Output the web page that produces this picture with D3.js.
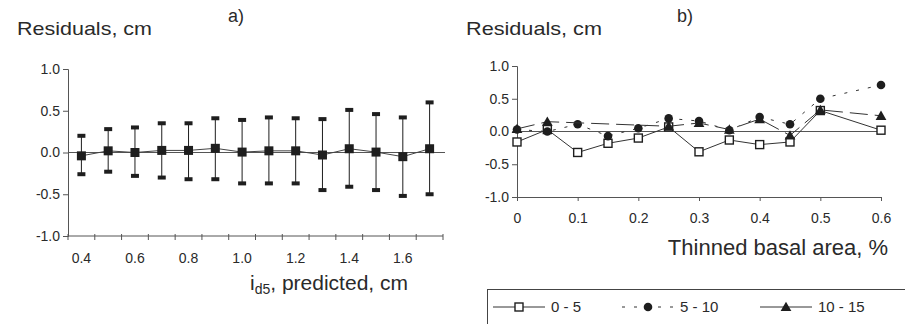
<!DOCTYPE html>
<html>
<head>
<meta charset="utf-8">
<script src="https://cdn.jsdelivr.net/npm/d3@7"></script>
<style>
  body { margin: 0; background: #fff; }
  svg { font-family: "Liberation Sans", Arial, sans-serif; }
</style>
</head>
<body>
<svg id="chart" width="905" height="324"></svg>
<script>
// panel a) residual means with error bars per predicted id5 class
const predCats = [0.4, 0.5, 0.6, 0.7, 0.8, 0.9, 1.0, 1.1, 1.2, 1.3, 1.4, 1.5, 1.6, 1.7];
const predLabels = [0.4, 0.6, 0.8, 1.0, 1.2, 1.4, 1.6];
const meanRes = [-0.04, 0.02, 0.0, 0.025, 0.025, 0.05, 0.005, 0.02, 0.02, -0.03, 0.045, 0.005, -0.05, 0.045];
const upperRes = [0.20, 0.28, 0.30, 0.35, 0.35, 0.41, 0.39, 0.42, 0.41, 0.40, 0.51, 0.46, 0.42, 0.60];
const lowerRes = [-0.26, -0.23, -0.28, -0.30, -0.32, -0.32, -0.37, -0.37, -0.37, -0.45, -0.41, -0.45, -0.52, -0.50];

// panel b) residuals by thinned basal area, three size classes (null = no value)
const thinned = [0, 0.05, 0.1, 0.15, 0.2, 0.25, 0.3, 0.35, 0.4, 0.45, 0.5, 0.6];
const thinnedTicks = [0, 0.1, 0.2, 0.3, 0.4, 0.5, 0.6];
const s0to5 = [-0.16, 0.03, -0.32, -0.18, -0.10, 0.07, -0.31, -0.13, -0.20, -0.16, 0.32, 0.02];
const s5to10 = [0.03, 0.0, 0.11, -0.07, 0.05, 0.20, 0.16, 0.02, 0.22, 0.11, 0.50, 0.71];
const s10to15 = [0.04, 0.15, null, null, null, 0.08, 0.13, 0.03, 0.19, -0.06, 0.33, 0.24];
const seriesNames = ["0 - 5", "5 - 10", "10 - 15"];

const yTicks = [-1, -0.5, 0, 0.5, 1];
const ink = "#1e1e1e", textCol = "#2a2a2a";

const svg = d3.select("#chart");

function styleAxis(g) {
  g.selectAll("path, line").attr("stroke", "#555").attr("stroke-width", 1);
  g.selectAll("text").attr("fill", textCol).style("font-size", "14px");
}

// ---------- panel a ----------
const xA = d3.scaleBand().domain(predCats).range([68, 443]);
const yA = d3.scaleLinear().domain([-1, 1]).range([236, 69]);
const bw = xA.bandwidth();

svg.append("g")
  .attr("transform", "translate(68,0)")
  .call(d3.axisLeft(yA).tickValues(yTicks).tickSize(5).tickFormat(d => d.toFixed(1)))
  .call(styleAxis);

// x axis: ticks on category borders, labels every second category
const gxA = svg.append("g").attr("transform", "translate(0," + yA(-1) + ")");
gxA.append("line").attr("x1", 68).attr("x2", 443).attr("stroke", "#555");
gxA.selectAll(".tk").data(predCats.concat(["end"])).join("line")
  .attr("x1", d => d === "end" ? 443 : xA(d))
  .attr("x2", d => d === "end" ? 443 : xA(d))
  .attr("y1", -2).attr("y2", 4).attr("stroke", "#555");
gxA.selectAll(".lb").data(predLabels).join("text")
  .attr("x", d => xA(d) + bw / 2).attr("y", 27)
  .attr("text-anchor", "middle").attr("fill", textCol).style("font-size", "14px")
  .text(d => d.toFixed(1));

svg.append("line").attr("x1", 68).attr("x2", 445)
  .attr("y1", yA(0)).attr("y2", yA(0)).attr("stroke", "#555");

const cx = (d, i) => xA(predCats[i]) + bw / 2;

// error bars
svg.append("g").selectAll("line").data(predCats).join("line")
  .attr("x1", cx).attr("x2", cx)
  .attr("y1", (d, i) => yA(upperRes[i])).attr("y2", (d, i) => yA(lowerRes[i]))
  .attr("stroke", ink).attr("stroke-width", 1);
svg.append("g").selectAll("rect").data(predCats.flatMap((d, i) => [[i, upperRes[i]], [i, lowerRes[i]]])).join("rect")
  .attr("x", d => cx(null, d[0]) - 4).attr("y", d => yA(d[1]) - 2)
  .attr("width", 8).attr("height", 4).attr("fill", ink);

svg.append("path").datum(meanRes)
  .attr("fill", "none").attr("stroke", "#444").attr("stroke-width", 1)
  .attr("d", d3.line().x((d, i) => cx(d, i)).y(d => yA(d)));
svg.append("g").selectAll("rect").data(meanRes).join("rect")
  .attr("x", (d, i) => cx(d, i) - 4.5).attr("y", d => yA(d) - 4.5)
  .attr("width", 9).attr("height", 9).attr("fill", ink);

svg.append("text").attr("x", 17).attr("y", 35).attr("fill", textCol)
  .style("font-size", "19px").attr("textLength", 135).attr("lengthAdjust", "spacingAndGlyphs")
  .text("Residuals, cm");
svg.append("text").attr("x", 228).attr("y", 22).attr("fill", textCol)
  .style("font-size", "18px").text("a)");
const xlabA = svg.append("text").attr("x", 250).attr("y", 290).attr("fill", textCol).style("font-size", "21px");
xlabA.append("tspan").text("i");
xlabA.append("tspan").attr("dy", 4).style("font-size", "14px").text("d5");
xlabA.append("tspan").attr("dy", -4).text(", predicted, cm");

// ---------- panel b ----------
const xB = d3.scaleLinear().domain([0, 0.6]).range([517, 881]);
const yB = d3.scaleLinear().domain([-1, 1]).range([197, 66]);

svg.append("g")
  .attr("transform", "translate(517,0)")
  .call(d3.axisLeft(yB).tickValues(yTicks).tickSize(5).tickFormat(d => d.toFixed(1)))
  .call(styleAxis);
svg.append("g")
  .attr("transform", "translate(0," + yB(-1) + ")")
  .call(d3.axisBottom(xB).tickValues(thinnedTicks).tickSize(4).tickPadding(12).tickFormat(d => d === 0 ? "0" : d.toFixed(1)))
  .call(styleAxis);

svg.append("line").attr("x1", 517).attr("x2", 881)
  .attr("y1", yB(0)).attr("y2", yB(0)).attr("stroke", "#555");

const series = [
  { name: seriesNames[0], vals: s0to5, dash: null, mark: "square" },
  { name: seriesNames[1], vals: s5to10, dash: "3,9", mark: "circle" },
  { name: seriesNames[2], vals: s10to15, dash: "18,7", mark: "triangle" }
];

function drawMark(g, type, x, y) {
  if (type === "square") {
    g.append("rect").attr("x", x - 4).attr("y", y - 4).attr("width", 8).attr("height", 8)
      .attr("fill", "#fff").attr("stroke", ink).attr("stroke-width", 1.4);
  } else if (type === "circle") {
    g.append("circle").attr("cx", x).attr("cy", y).attr("r", 4.3).attr("fill", ink);
  } else {
    g.append("path").attr("transform", "translate(" + x + "," + (y + 1) + ")")
      .attr("d", d3.symbol(d3.symbolTriangle, 50)()).attr("fill", ink);
  }
}

const lineB = d3.line().x(d => xB(d[0])).y(d => yB(d[1]));
series.forEach(s => {
  const pts = thinned.map((t, i) => [t, s.vals[i]]).filter(p => p[1] !== null);
  svg.append("path").datum(pts)
    .attr("fill", "none").attr("stroke", "#333").attr("stroke-width", 1)
    .attr("stroke-dasharray", s.dash).attr("d", lineB);
  const g = svg.append("g");
  pts.forEach(p => drawMark(g, s.mark, xB(p[0]), yB(p[1])));
});

svg.append("text").attr("x", 466).attr("y", 35).attr("fill", textCol)
  .style("font-size", "19px").attr("textLength", 136).attr("lengthAdjust", "spacingAndGlyphs")
  .text("Residuals, cm");
svg.append("text").attr("x", 677).attr("y", 22).attr("fill", textCol)
  .style("font-size", "18px").text("b)");
svg.append("text").attr("x", 888).attr("y", 255).attr("text-anchor", "end").attr("fill", textCol)
  .style("font-size", "22px").text("Thinned basal area, %");

// legend
const leg = svg.append("g");
leg.append("rect").attr("x", 487.5).attr("y", 289.5).attr("width", 430).attr("height", 40)
  .attr("fill", "none").attr("stroke", "#444");
const legX = [493, 622, 760];
series.forEach((s, i) => {
  const x0 = legX[i];
  leg.append("line").attr("x1", x0).attr("x2", x0 + 52).attr("y1", 307).attr("y2", 307)
    .attr("stroke", "#333").attr("stroke-dasharray", i === 2 ? null : s.dash);
  drawMark(leg, s.mark, x0 + 26, 307);
  leg.append("text").attr("x", x0 + 58).attr("y", 312).attr("fill", textCol)
    .style("font-size", "15px").text(s.name);
});
</script>
</body>
</html>
